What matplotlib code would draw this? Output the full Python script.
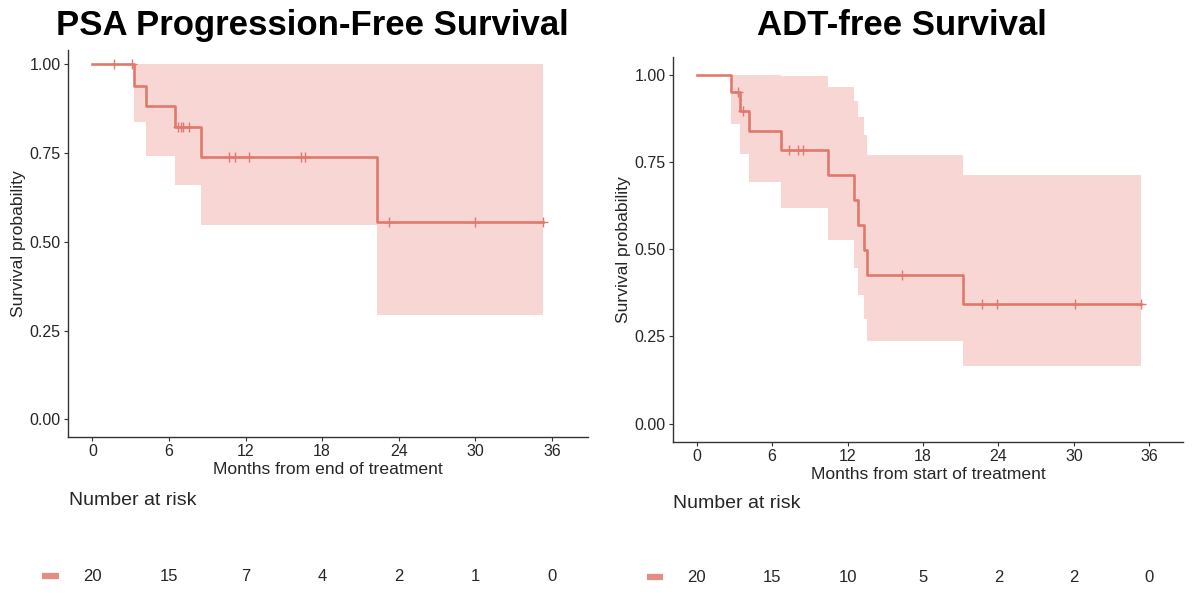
import matplotlib
matplotlib.use('Agg')
import matplotlib.pyplot as plt
import matplotlib.transforms as mtransforms
from matplotlib.lines import Line2D
import numpy as np

plt.rcParams['font.family'] = ['Liberation Sans', 'DejaVu Sans']

# --- PSA progression-free survival
psa_times = [0, 3.24, 4.17, 6.50, 8.50, 22.30]
psa_surv = [1.0, 0.940, 0.882, 0.823, 0.740, 0.555]
psa_lower = [1.0, 0.837, 0.741, 0.660, 0.548, 0.293]
psa_upper = [1.0, 1.0, 1.0, 1.0, 1.0, 1.0]
psa_censor = [1.73, 3.12, 6.71, 6.91, 7.09, 7.58, 10.67, 11.21, 12.24,
              16.37, 16.63, 23.27, 30.0, 35.28]
psa_end = 35.28
psa_risk = [20, 15, 7, 4, 2, 1, 0]

# --- ADT-free survival
adt_times = [0, 2.76, 3.46, 4.14, 6.73, 10.41, 12.49, 12.84, 13.30, 13.57, 21.19]
adt_surv = [1.0, 0.950, 0.898, 0.840, 0.786, 0.713, 0.642, 0.571, 0.498, 0.427, 0.342]
adt_lower = [1.0, 0.860, 0.773, 0.692, 0.619, 0.528, 0.445, 0.369, 0.301, 0.237, 0.165]
adt_upper = [1.0, 1.0, 1.0, 1.0, 0.996, 0.966, 0.926, 0.880, 0.828, 0.771, 0.713]
adt_censor = [3.25, 3.65, 7.35, 8.06, 8.49, 16.30, 22.70, 23.90, 30.06, 35.35]
adt_end = 35.35
adt_risk = [20, 15, 10, 5, 2, 2, 0]

risk_times = [0, 6, 12, 18, 24, 30, 36]
xticks = [0, 6, 12, 18, 24, 30, 36]
yticks = [0.0, 0.25, 0.5, 0.75, 1.0]

line_col = '#E0796C'
fill_col = '#F8D6D4'
txt_col = '#262626'

W, H = 1200, 600
fig = plt.figure(figsize=(12, 6), dpi=100)


def px_axes(l, r, t, b):
    return fig.add_axes([l / W, 1 - b / H, (r - l) / W, (b - t) / H])


def km_panel(ax, times, surv, lower, upper, censor, end, xlab, xlim, ylim):
    x = list(times) + [end]
    ax.fill_between(x, list(lower) + [lower[-1]], list(upper) + [upper[-1]],
                    step='post', color=fill_col, lw=0)
    ax.step(x, list(surv) + [surv[-1]], where='post', color=line_col, lw=1.9)
    idx = np.searchsorted(times, censor, side='right') - 1
    ax.plot(censor, np.array(surv)[idx], ls='none', marker='+', ms=7,
            mew=1.0, color=line_col)
    ax.set_xlim(*xlim)
    ax.set_ylim(*ylim)
    ax.set_xticks(xticks)
    ax.set_yticks(yticks)
    ax.set_yticklabels(['%.2f' % v for v in yticks])
    for s in ['top', 'right']:
        ax.spines[s].set_visible(False)
    for s in ['left', 'bottom']:
        ax.spines[s].set_color('#333333')
        ax.spines[s].set_linewidth(1.0)
    ax.tick_params(direction='out', length=3, width=0.8, colors='#333333',
                   labelsize=11.5, labelcolor=txt_col, pad=2)
    ax.set_xlabel(xlab, fontsize=12.6, color=txt_col, labelpad=2.5)
    ax.set_ylabel('Survival probability', fontsize=12.6, color=txt_col, labelpad=2.5)


ax1 = px_axes(67.7, 588.4, 50, 436.7)
km_panel(ax1, psa_times, psa_surv, psa_lower, psa_upper, psa_censor, psa_end,
         'Months from end of treatment', (-1.93, 38.85), (-0.049, 1.040))

ax2 = px_axes(672.6, 1183.3, 56.7, 441.7)
km_panel(ax2, adt_times, adt_surv, adt_lower, adt_upper, adt_censor, adt_end,
         'Months from start of treatment', (-1.92, 38.7), (-0.052, 1.0525))

# titles
fig.text(312.5 / W, 1 - 35 / H, 'PSA Progression-Free Survival', ha='center',
         va='baseline', fontsize=25, fontweight='bold', color='black')
fig.text(901.7 / W, 1 - 35 / H, 'ADT-free Survival', ha='center',
         va='baseline', fontsize=25, fontweight='bold', color='black')

# number at risk tables
for ax, risk, head_x, head_y, row_y, dash in [
        (ax1, psa_risk, 69.3, 500.7, 576.3, (41.7, 59.3)),
        (ax2, adt_risk, 672.7, 504.0, 577.3, (646.7, 663.3))]:
    fig.text(head_x / W, 1 - head_y / H, 'Number at risk', ha='left',
             va='center', fontsize=14, color=txt_col)
    trans = mtransforms.blended_transform_factory(ax.transData, fig.transFigure)
    for t, n in zip(risk_times, risk):
        fig.text(t, 1 - row_y / H, str(n), transform=trans, ha='center',
                 va='center', fontsize=12, color=txt_col)
    fig.add_artist(Line2D([dash[0] / W, dash[1] / W], [1 - row_y / H] * 2,
                          lw=4.5, color=line_col, alpha=0.85,
                          solid_capstyle='butt'))

fig.savefig('out.png', dpi=100, facecolor='white')
